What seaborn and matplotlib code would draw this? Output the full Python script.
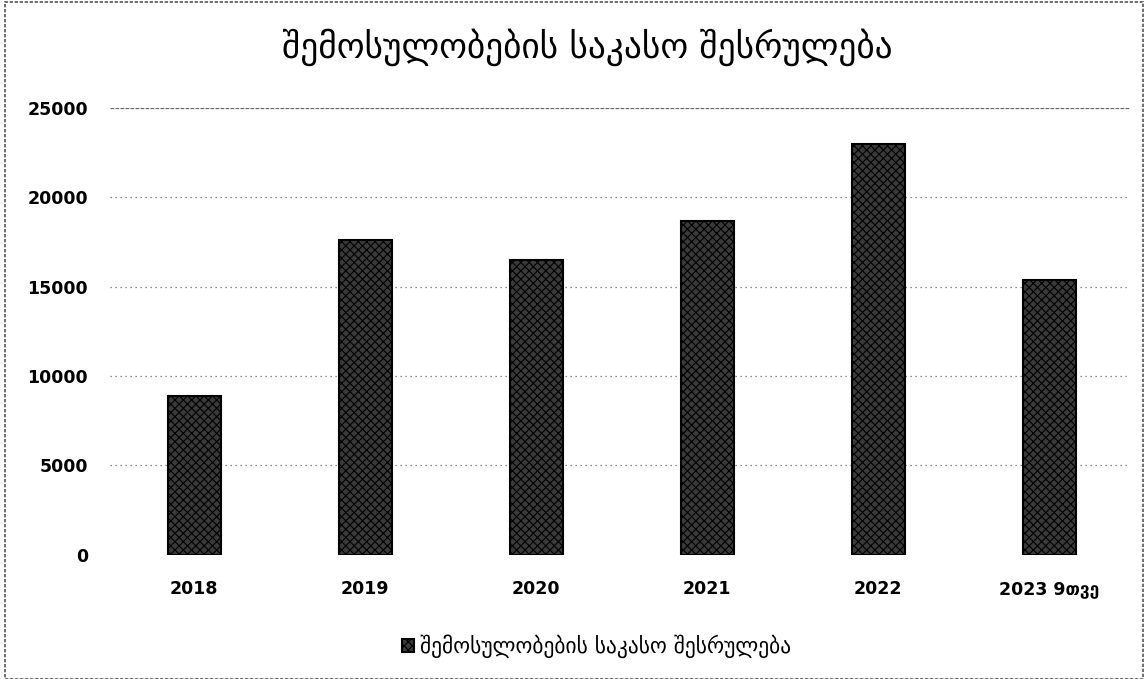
import matplotlib
matplotlib.use('Agg')
import matplotlib.pyplot as plt
import seaborn as sns
import pandas as pd
from matplotlib.patches import Rectangle

years = ["2018", "2019", "2020", "2021", "2022", "2023 9თვე"]
revenue = [8900, 17600, 16500, 18700, 23000, 15400]
series_name = "შემოსულობების საკასო შესრულება"
y_ticks = [0, 5000, 10000, 15000, 20000, 25000]

df = pd.DataFrame({"year": years, "value": revenue})

sns.set_theme(style="white")
plt.rcParams['font.family'] = ['DejaVu Sans']
plt.rcParams['text.color'] = 'black'
plt.rcParams['xtick.color'] = 'black'
plt.rcParams['ytick.color'] = 'black'
plt.rcParams['hatch.color'] = '#b0b0b0'
plt.rcParams['hatch.linewidth'] = 0.8

fig = plt.figure(figsize=(11.48, 6.79), dpi=100)
ax = fig.add_axes([0.096, 0.183, 0.888, 0.658])

sns.barplot(data=df, x="year", y="value", ax=ax, color="#3a3a3a",
            width=0.31, edgecolor="black", linewidth=1.5, label=series_name,
            zorder=3)
for bar in ax.patches:
    bar.set_hatch("xxxx")

#dotted gridlines like the scan
for t in y_ticks[1:]:
    ax.axhline(t, color="#666666", linestyle=(0, (1, 3)) if t != 25000 else (0, (3, 1)),
               linewidth=0.9, zorder=1)

ax.set_ylim(0, 25000)
ax.set_xlim(-0.49, 5.47)
ax.set_yticks(y_ticks)
ax.set_yticklabels([str(t) for t in y_ticks], fontsize=12.5, fontweight="bold")
ax.tick_params(axis="x", labelsize=12.5, pad=12)
for lbl in ax.get_xticklabels():
    lbl.set_fontweight("bold")
ax.tick_params(axis="y", pad=10)
ax.set_xlabel("")
ax.set_ylabel("")
sns.despine(ax=ax, left=True, bottom=True, top=True, right=True)

fig.text(0.512, 0.93, series_name, ha="center", va="center", fontsize=25.5)

leg = ax.legend(loc="upper center", bbox_to_anchor=(0.477, -0.135), frameon=False,
                fontsize=15.5, handlelength=0.55, handleheight=0.55, handletextpad=0.3)

#scan frame
fig.patches.append(Rectangle((0.004, 0.0), 0.992, 0.997, transform=fig.transFigure,
                             fill=False, edgecolor="#555555", linewidth=1.2,
                             linestyle=(0, (2, 1))))

fig.savefig("out.png", dpi=100)
